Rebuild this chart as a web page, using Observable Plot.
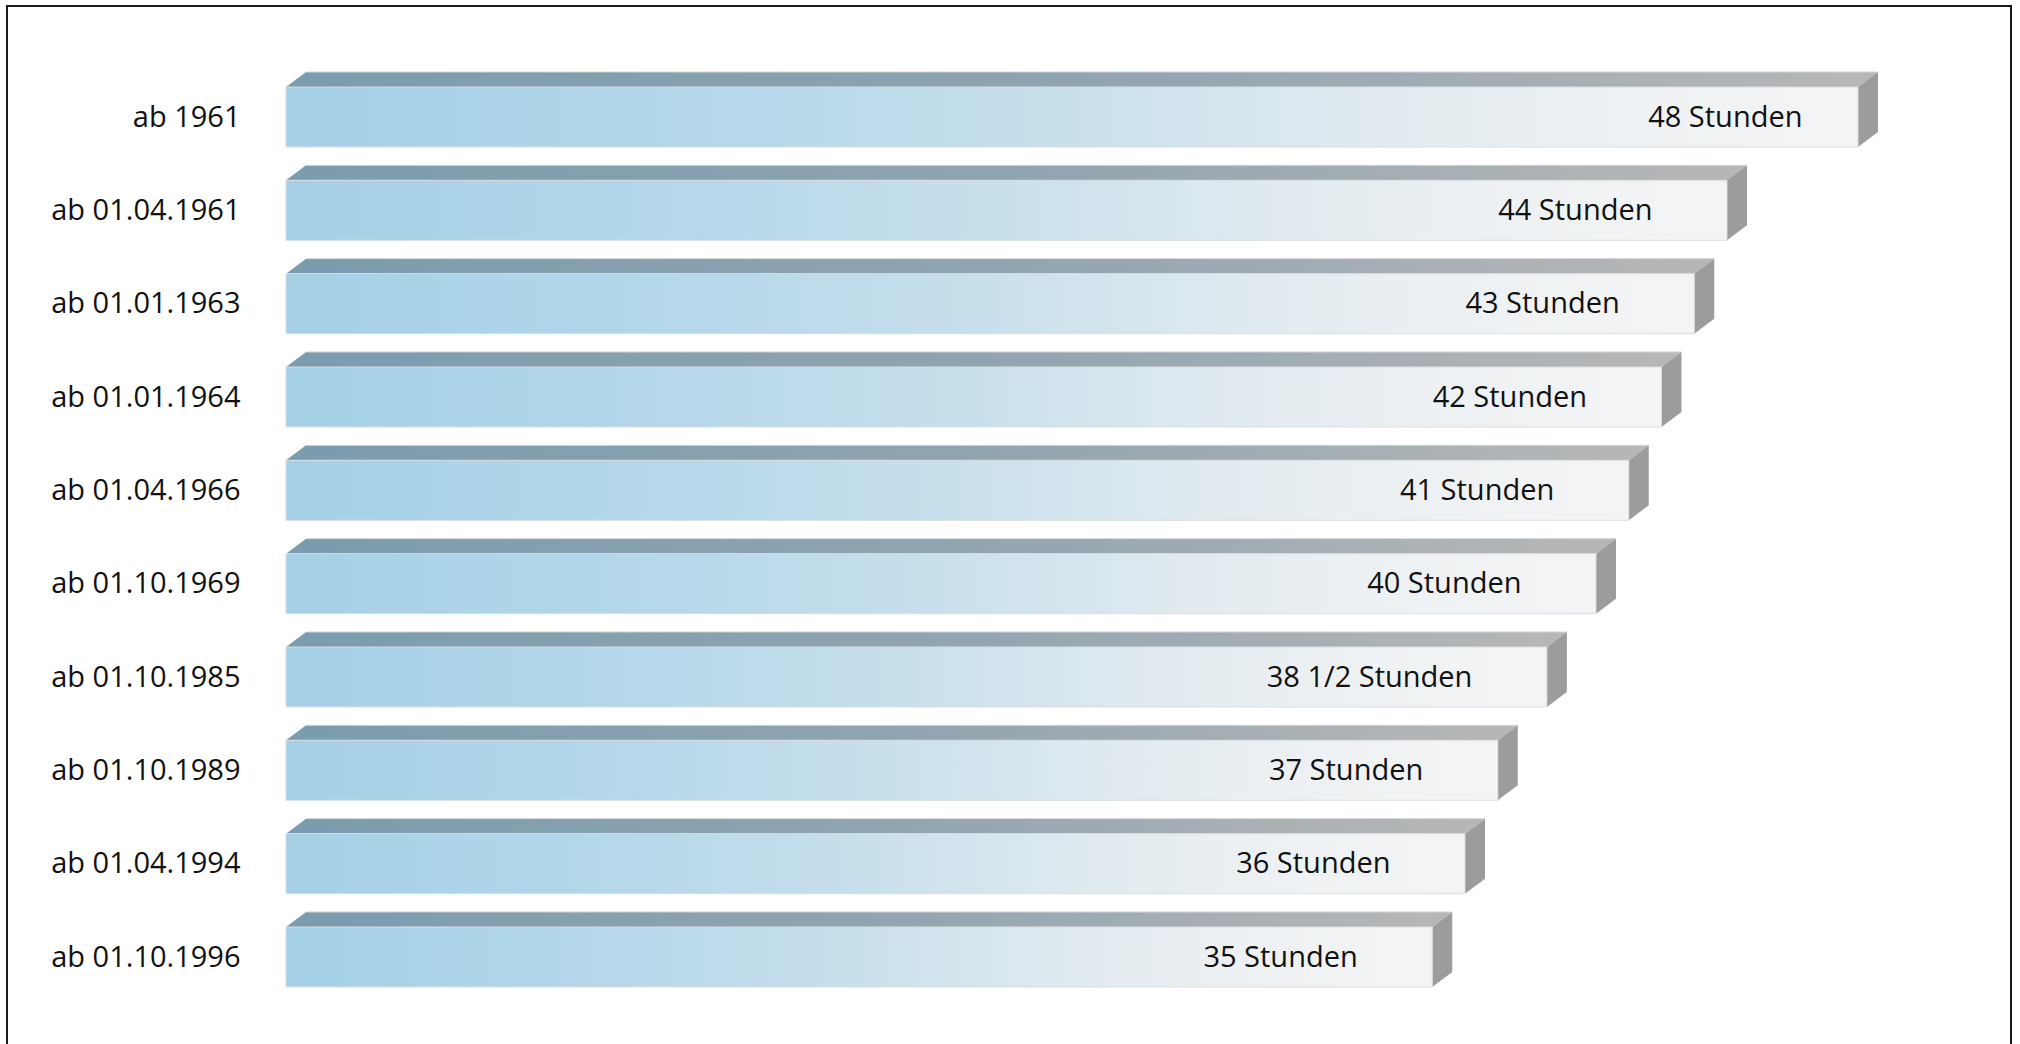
<!DOCTYPE html>
<html><head><meta charset="utf-8">
<script src="https://cdn.jsdelivr.net/npm/d3@7"></script>
<script src="https://cdn.jsdelivr.net/npm/@observablehq/plot@0.6"></script>
<style>
html,body{margin:0;padding:0;background:#fff;overflow:hidden;}
#frame{position:absolute;left:6px;top:5px;width:2002px;height:1100px;border:2px solid #1a1a1a;box-sizing:content-box;}
#chart{position:absolute;left:0;top:0;}
</style></head><body>
<div id="frame"></div><div id="chart"></div>
<script>
const periods = ["ab 1961","ab 01.04.1961","ab 01.01.1963","ab 01.01.1964","ab 01.04.1966","ab 01.10.1969","ab 01.10.1985","ab 01.10.1989","ab 01.04.1994","ab 01.10.1996"];
const hours = [48, 44, 43, 42, 41, 40, 38.5, 37, 36, 35];
const valueLabels = ["48 Stunden","44 Stunden","43 Stunden","42 Stunden","41 Stunden","40 Stunden","38 1/2 Stunden","37 Stunden","36 Stunden","35 Stunden"];

const data = periods.map((p, i) => ({period: p, hours: hours[i], label: valueLabels[i]}));

const W = 2020, H = 1044;
const M = {top: 53.67, right: 162, bottom: 23.7, left: 286};
const PAD = 0.357;
const DX = 20, DY = 15;

function faces(index, scales, values, dimensions) {
  const {x, y} = scales;
  let bw = y && (typeof y.bandwidth === "function" ? y.bandwidth() : y.bandwidth);
  if (!(bw > 0)) {
    const step = (dimensions.height - dimensions.marginTop - dimensions.marginBottom) / (periods.length + PAD);
    bw = step * (1 - PAD);
  }
  const g = d3.create("svg:g");
  const defs = g.append("defs");
  const fg = defs.append("linearGradient").attr("id", "frontGrad").attr("x1", 0).attr("x2", 1).attr("y1", 0).attr("y2", 0);
  [[0, "#a5d0e6"], [0.3, "#b6d8ea"], [0.5, "#c9e0ec"], [0.7, "#e2ebf0"], [0.85, "#eef1f3"], [1, "#f3f4f5"]]
    .forEach(([o, c]) => fg.append("stop").attr("offset", o).attr("stop-color", c));
  const tg = defs.append("linearGradient").attr("id", "topGrad").attr("x1", 0).attr("x2", 1).attr("y1", 0).attr("y2", 0);
  [[0, "#7a9cae"], [0.5, "#90a4b0"], [1, "#b7b7b7"]]
    .forEach(([o, c]) => tg.append("stop").attr("offset", o).attr("stop-color", c));
  for (const d of data) {
    const x0 = x(0), x1 = x(d.hours);
    const y0 = y(d.period), y1 = y0 + bw;
    g.append("polygon")
      .attr("points", [[x0, y0], [x1, y0], [x1 + DX, y0 - DY], [x0 + DX, y0 - DY]].map(p => p.join(",")).join(" "))
      .attr("fill", "url(#topGrad)");
    g.append("line")
      .attr("x1", x0 + DX).attr("x2", x1 + DX).attr("y1", y0 - DY).attr("y2", y0 - DY)
      .attr("stroke", "#d4d6d8").attr("stroke-width", 1);
    g.append("polygon")
      .attr("points", [[x1, y0], [x1 + DX, y0 - DY], [x1 + DX, y1 - DY], [x1, y1]].map(p => p.join(",")).join(" "))
      .attr("fill", "#9c9c9c");
  }
  return g.node();
}

const textStyle = {textAnchor: "end", fontSize: 29, fill: "#111", fontFamily: "'Open Sans', sans-serif"};

const chart = Plot.plot({
  width: W,
  height: H,
  marginTop: M.top,
  marginRight: M.right,
  marginBottom: M.bottom,
  marginLeft: M.left,
  style: {fontFamily: "'Open Sans', sans-serif", fontSize: "29px", color: "#111", background: "transparent"},
  x: {domain: [0, d3.max(hours)], axis: null},
  y: {domain: periods, padding: PAD, round: false, label: null},
  marks: [
    faces,
    Plot.barX(data, {x: "hours", y: "period", fill: "url(#frontGrad)", stroke: "#d8dde1", strokeWidth: 1}),
    Plot.text(data, {filter: (d, i) => i === 0, x: "hours", y: "period", text: "label", dx: -56, ...textStyle}),
    Plot.text(data, {filter: (d, i) => i > 0, x: "hours", y: "period", text: "label", dx: -75, ...textStyle}),
    Plot.axisY({tickSize: 0, tickPadding: 46, fontSize: 29, fill: "#111", fontFamily: "'Open Sans', sans-serif", label: null})
  ]
});
document.getElementById("chart").appendChild(chart);
</script>
</body></html>
